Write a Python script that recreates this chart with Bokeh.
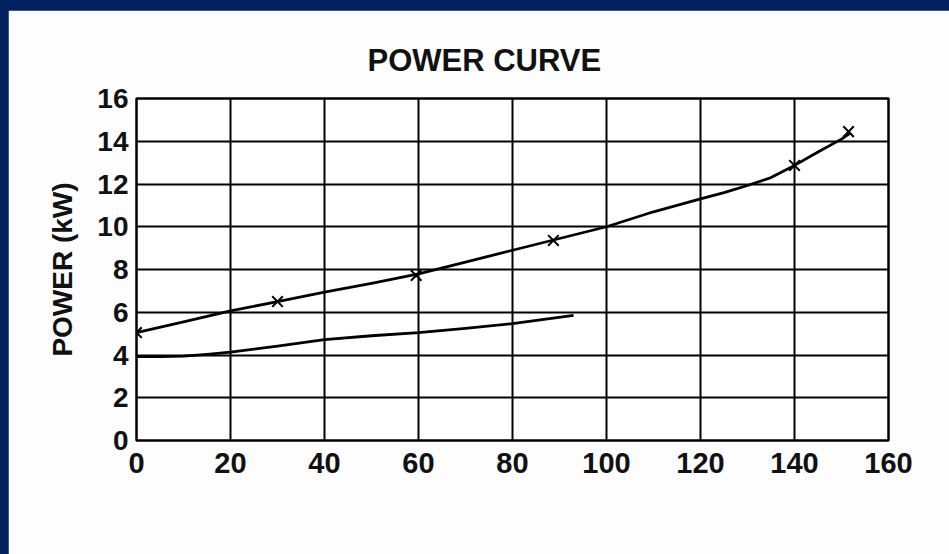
from bokeh.plotting import figure
from bokeh.layouts import column
from bokeh.models import FixedTicker, Range1d, Title
from bokeh.embed import file_html
from bokeh.resources import INLINE

# Upper curve
upper_x = [0, 10, 20, 30, 40, 50, 60, 70, 80, 90, 100, 110, 120, 125, 130, 135, 140, 145, 150, 152]
upper_y = [5.05, 5.55, 6.06, 6.5, 6.94, 7.35, 7.8, 8.35, 8.9, 9.45, 10.0, 10.7, 11.3, 11.6, 11.93, 12.3, 12.87, 13.5, 14.1, 14.4]
marker_x = [0, 30, 59.5, 88.7, 140, 151.5]
marker_y = [5.05, 6.5, 7.72, 9.36, 12.87, 14.45]
# Lower curve
lower_x = [0, 5, 10, 15, 20, 30, 40, 50, 60, 70, 80, 93]
lower_y = [3.92, 3.92, 3.95, 4.03, 4.13, 4.42, 4.72, 4.9, 5.05, 5.25, 5.47, 5.85]

x_ticks = [0, 20, 40, 60, 80, 100, 120, 140, 160]
y_ticks = [0, 2, 4, 6, 8, 10, 12, 14, 16]

FONT = "Liberation Sans"

p = figure(width=941, height=544, output_backend="svg", toolbar_location=None,
           x_range=Range1d(0, 160), y_range=Range1d(0, 16),
           min_border_left=128, min_border_right=61, min_border_top=88, min_border_bottom=114)
p.margin = (10, 0, 0, 8)
p.background_fill_color = "#ffffff"
p.border_fill_color = "#fdfdfd"
p.outline_line_color = "black"
p.outline_line_width = 2.5

t = Title(text="POWER CURVE", align="left", offset=231, text_font=FONT,
          text_font_size="31px", text_font_style="bold", text_color="#111111", standoff=42)
p.add_layout(t, "above")

for ax in (p.xaxis[0], p.yaxis[0]):
    ax.axis_line_color = None
    ax.major_tick_in = 0
    ax.major_tick_out = 0
    ax.minor_tick_in = 0
    ax.minor_tick_out = 0
    ax.major_label_text_font = FONT
    ax.major_label_text_font_style = "bold"
    ax.major_label_text_color = "#111111"

p.xaxis.major_label_text_font_size = "29px"
p.yaxis.major_label_text_font_size = "28px"
p.xaxis.ticker = FixedTicker(ticks=x_ticks)
p.yaxis.ticker = FixedTicker(ticks=y_ticks)
p.xaxis.major_label_standoff = 12
p.yaxis.major_label_standoff = 8
p.yaxis.axis_label = "POWER (kW)"
p.yaxis.axis_label_text_font = FONT
p.yaxis.axis_label_text_font_style = "bold"
p.yaxis.axis_label_text_font_size = "28px"
p.yaxis.axis_label_text_color = "#111111"
p.yaxis.axis_label_standoff = 16

p.xgrid.ticker = FixedTicker(ticks=x_ticks)
p.ygrid.ticker = FixedTicker(ticks=y_ticks)
for g in (p.xgrid[0], p.ygrid[0]):
    g.grid_line_color = "black"
    g.grid_line_width = 2
    g.grid_line_alpha = 1.0

p.line(upper_x, upper_y, line_color="black", line_width=2.8, line_join="round")
p.line(lower_x, lower_y, line_color="black", line_width=2.8, line_join="round")
p.scatter(marker_x, marker_y, marker="x", size=15, line_color="black", line_width=2)

page = column(p, styles={"background-color": "#00205f"})

open("out.html", "w").write(file_html(page, INLINE))
